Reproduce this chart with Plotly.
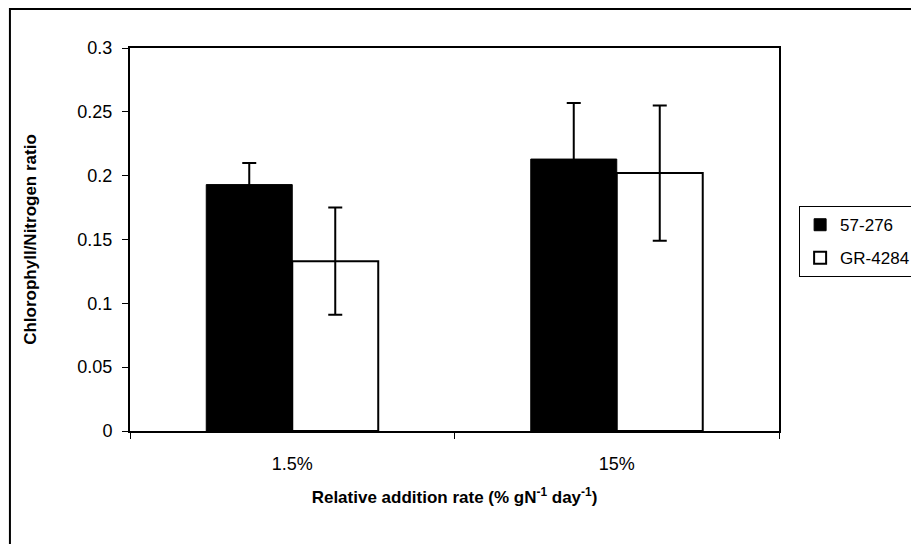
import plotly.graph_objects as go

categories = ["1.5%", "15%"]
series_names = ["57-276", "GR-4284"]
values_57_276 = [0.193, 0.213]
errors_57_276 = [0.017, 0.044]
values_gr_4284 = [0.133, 0.202]
errors_gr_4284 = [0.042, 0.053]

FONT = "Liberation Sans, Arial, sans-serif"

fig = go.Figure()
fig.add_trace(go.Bar(
    x=categories, y=values_57_276, name=series_names[0],
    legendgroup="a",
    marker=dict(color="black", line=dict(color="black", width=1)),
    error_y=dict(type="data", array=errors_57_276, color="black", thickness=2, width=7),
))
fig.add_trace(go.Bar(
    x=categories, y=values_gr_4284, name=series_names[1],
    legendgroup="b",
    marker=dict(color="white", line=dict(color="black", width=2)),
    error_y=dict(type="data", array=errors_gr_4284, color="black", thickness=2, width=7),
))

fig.update_layout(
    width=911, height=544,
    margin=dict(l=130, r=132, t=48, b=113, autoexpand=False),
    paper_bgcolor="white", plot_bgcolor="white",
    barmode="group", bargap=0.47, bargroupgap=0,
    font=dict(family=FONT, size=18, color="black"),
    showlegend=True,
    legend=dict(
        x=1.031, y=0.587, xanchor="left", yanchor="top",
        bordercolor="black", borderwidth=1,
        font=dict(family=FONT, size=17, color="black"),
        tracegroupgap=8, itemwidth=30,
    ),
    xaxis=dict(
        showline=True, linecolor="black", linewidth=2, mirror=True,
        ticks="outside", tickson="boundaries", ticklen=6, tickcolor="black",
        tickfont=dict(size=18), ticklabelstandoff=15,
        title=dict(text="<b>Relative addition rate (% gN<sup>-1</sup> day<sup>-1</sup>)</b>",
                   font=dict(size=17), standoff=19),
    ),
    yaxis=dict(
        range=[0, 0.3], dtick=0.05, tickformat="~g",
        showline=True, linecolor="black", linewidth=2, mirror=True,
        ticks="outside", ticklen=6, tickcolor="black",
        showgrid=False, zeroline=False,
        tickfont=dict(size=18), ticklabelstandoff=6,
        title=dict(text="<b>Chlorophyll/Nitrogen ratio</b>", font=dict(size=17), standoff=36),
    ),
    shapes=[dict(type="rect", xref="paper", yref="paper",
                 x0=-0.185, x1=2.0, y0=-2.0, y1=1.102,
                 line=dict(color="black", width=2), layer="below")],
)

fig.write_html("out.html")
